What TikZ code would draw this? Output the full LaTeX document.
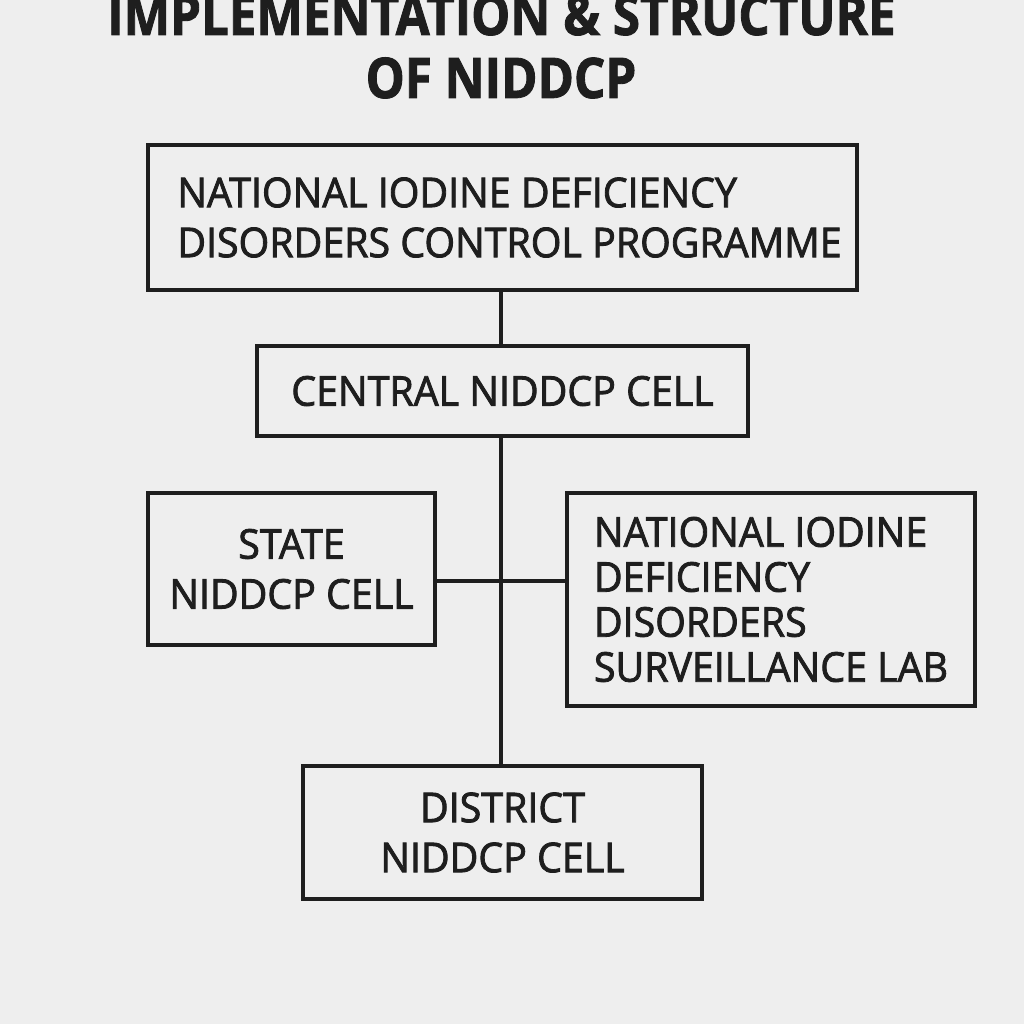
\documentclass[tikz,border=0pt]{standalone}
\usepackage{fontspec}
\setmainfont[FakeStretch=0.96,FakeBold=2]{Open Sans}
\newfontfamily\titlefont[FakeStretch=0.88,FakeBold=1.5]{Open Sans Bold}
\definecolor{bg}{HTML}{EEEEEE}
\definecolor{ink}{HTML}{1E1E1E}
\begin{document}
\begin{tikzpicture}[x=1pt,y=-1pt,
  box/.style={draw=ink, line width=3.6pt, text=ink, inner sep=0pt,
    font=\fontsize{41}{50}\selectfont},
  link/.style={draw=ink, line width=3.6pt},
  title/.style={text=ink, inner sep=0pt, anchor=base, font=\titlefont\fontsize{56}{63}\selectfont}]
\fill[bg] (0,0) rectangle (1024,1024);
\useasboundingbox (0,0) rectangle (1024,1024);
\node[title] (t1) at (501.5,35) {IMPLEMENTATION \& STRUCTURE};
\node[title] (t2) at (501,98) {OF NIDDCP};
\node[box, minimum width=709pt, minimum height=145pt, align=left] (nat) at (502.5,217.5)
  {\hspace*{14pt}NATIONAL IODINE DEFICIENCY\\\hspace*{14pt}DISORDERS CONTROL PROGRAMME};
\node[box, minimum width=491pt, minimum height=90pt] (cen) at (502.5,391) {CENTRAL NIDDCP CELL};
\node[box, minimum width=287pt, minimum height=152pt, align=center] (sta) at (291.5,569)
  {STATE\\NIDDCP CELL};
\node[box, minimum width=408pt, minimum height=213pt, align=left,
  font=\fontsize{41}{45}\selectfont] (lab) at (771,599.5)
  {NATIONAL IODINE\\DEFICIENCY\\DISORDERS\\SURVEILLANCE LAB};
\node[box, minimum width=399pt, minimum height=133pt, align=center] (dis) at (502.5,832.5)
  {DISTRICT\\NIDDCP CELL};
\draw[link] (nat.south -| 501,0) -- (cen.north -| 501,0);
\draw[link] (cen.south -| 501,0) -- (dis.north -| 501,0);
\coordinate (j) at (501,581);
\draw[link] (sta.east |- j) -- (lab.west |- j);
\end{tikzpicture}
\end{document}
